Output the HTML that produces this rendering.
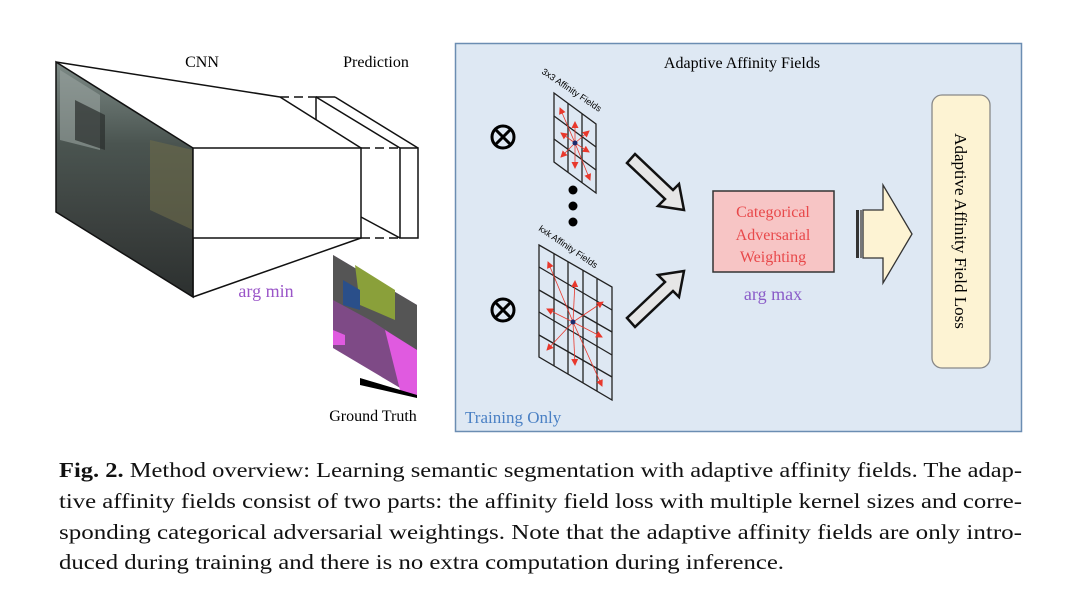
<!DOCTYPE html>
<html><head><meta charset="utf-8"><style>
html,body{margin:0;padding:0;background:#fff;}
svg{display:block;font-family:"Liberation Serif",serif;}
</style></head><body>
<svg width="1080" height="599" viewBox="0 0 1080 599" xmlns="http://www.w3.org/2000/svg">
<defs>
<linearGradient id="ph" x1="0" y1="0" x2="0" y2="1">
<stop offset="0" stop-color="#7d8a86"/><stop offset="0.35" stop-color="#4a5450"/><stop offset="0.7" stop-color="#3b403e"/><stop offset="1" stop-color="#2c302f"/></linearGradient>
<marker id="ra" markerWidth="7" markerHeight="7" refX="6" refY="3.5" orient="auto" markerUnits="userSpaceOnUse"><path d="M0,0 L7,3.5 L0,7z" fill="#e8382c"/></marker>
</defs>
<!-- photo -->
<polygon points="56,62 193,148 193,297 56,212" fill="url(#ph)"/>
<polygon points="60,70 100,95 100,150 60,140" fill="#9aa3a0" opacity="0.6"/>
<polygon points="150,140 193,150 193,230 150,210" fill="#6d6a4a" opacity="0.6"/>
<polygon points="75,100 105,115 105,150 75,140" fill="#2a2e2c" opacity="0.7"/>
<polygon points="56,62 193,148 193,297 56,212" fill="none" stroke="#111" stroke-width="1.5"/>
<!-- CNN block -->
<g stroke="#111" stroke-width="1.5" fill="none">
<line x1="56" y1="62" x2="280" y2="97"/>
<line x1="280" y1="97" x2="318" y2="97" stroke-dasharray="9,5"/>
<line x1="280" y1="97" x2="361" y2="148"/>
<rect x="193" y="148" width="168" height="90" fill="#fff"/>
<line x1="193" y1="297" x2="361" y2="238"/>
<line x1="193" y1="238" x2="193" y2="297"/>
<line x1="361" y1="148" x2="400" y2="148" stroke-dasharray="9,5"/>
<line x1="361" y1="238" x2="400" y2="238" stroke-dasharray="9,5"/>
<line x1="316" y1="97" x2="335" y2="97"/>
<line x1="316" y1="97" x2="316" y2="120"/>
<line x1="316" y1="97" x2="400" y2="148"/>
<line x1="335" y1="97" x2="418" y2="148"/>
<line x1="361" y1="217" x2="400" y2="238"/>
<rect x="400" y="148" width="18" height="90"/>
</g>
<text x="202" y="67" font-size="16" text-anchor="middle">CNN</text>
<text x="376" y="67" font-size="16" text-anchor="middle">Prediction</text>
<text x="266" y="297" font-size="18" fill="#9a55c8" text-anchor="middle">arg min</text>
<!-- ground truth -->
<polygon points="333,255 417,305 417,398 333,348" fill="#7e4a86"/>
<polygon points="333,255 417,305 417,350 370,320 333,300" fill="#555"/>
<polygon points="355,265 395,290 395,320 360,305" fill="#8aa03a"/>
<polygon points="343,280 360,290 360,310 343,305" fill="#2a4f8a"/>
<polygon points="385,330 417,350 417,398 400,390" fill="#e05ae0"/>
<polygon points="333,330 345,335 345,345 333,345" fill="#e05ae0"/>
<polygon points="360,378 417,395 417,398 360,385" fill="#000"/>
<text x="373" y="421" font-size="16" text-anchor="middle">Ground Truth</text>
<!-- right panel -->
<rect x="455.5" y="43.5" width="566" height="388" fill="#dee8f3" stroke="#6b8db2" stroke-width="1.5"/>
<text x="742" y="68" font-size="16" text-anchor="middle">Adaptive Affinity Fields</text>
<text x="465" y="423" font-size="17" fill="#4a80c4">Training Only</text>
<!-- otimes -->
<g stroke="#000" stroke-width="3" fill="none">
<circle cx="503" cy="137" r="11"/><line x1="495" y1="129" x2="511" y2="145"/><line x1="511" y1="129" x2="495" y2="145"/>
<circle cx="503" cy="310" r="11"/><line x1="495" y1="302" x2="511" y2="318"/><line x1="511" y1="302" x2="495" y2="318"/>
</g>
<!-- 3x3 grid -->
<text font-size="9" font-family="Liberation Sans,sans-serif" transform="translate(541,73) rotate(34)">3x3 Affinity Fields</text>
<g stroke="#222" stroke-width="1.3" fill="none">
<polygon points="554,93 596,124 596,193 554,162"/>
<line x1="568" y1="103" x2="568" y2="172"/><line x1="582" y1="114" x2="582" y2="183"/>
<line x1="554" y1="116" x2="596" y2="147"/><line x1="554" y1="139" x2="596" y2="170"/>
</g>
<g stroke="#e8382c" stroke-width="0.8" marker-end="url(#ra)">
<line x1="575" y1="143" x2="560" y2="108"/><line x1="575" y1="143" x2="575" y2="122"/><line x1="575" y1="143" x2="589" y2="131"/>
<line x1="575" y1="143" x2="561" y2="133"/><line x1="575" y1="143" x2="589" y2="152"/>
<line x1="575" y1="143" x2="561" y2="157"/><line x1="575" y1="143" x2="575" y2="168"/><line x1="575" y1="143" x2="590" y2="180"/>
</g>
<circle cx="575" cy="143" r="2.5" fill="#1a2a6a"/>
<circle cx="573" cy="190" r="4.5" fill="#000"/><circle cx="573" cy="206" r="4.5" fill="#000"/><circle cx="573" cy="222" r="4.5" fill="#000"/>
<!-- kxk grid -->
<text font-size="9" font-family="Liberation Sans,sans-serif" transform="translate(538,230) rotate(34)">kxk Affinity Fields</text>
<g stroke="#222" stroke-width="1.3" fill="none">
<polygon points="539,245 612,287 612,400 539,357"/>
<line x1="554" y1="254" x2="554" y2="366"/><line x1="568" y1="262" x2="568" y2="374"/><line x1="583" y1="270" x2="583" y2="383"/><line x1="597" y1="279" x2="597" y2="391"/>
<line x1="539" y1="267" x2="612" y2="310"/><line x1="539" y1="290" x2="612" y2="332"/><line x1="539" y1="312" x2="612" y2="355"/><line x1="539" y1="335" x2="612" y2="377"/>
</g>
<g stroke="#e8382c" stroke-width="0.8" marker-end="url(#ra)">
<line x1="573" y1="322" x2="548" y2="262"/><line x1="573" y1="322" x2="575" y2="281"/><line x1="573" y1="322" x2="603" y2="302"/>
<line x1="573" y1="322" x2="547" y2="309"/><line x1="573" y1="322" x2="602" y2="337"/>
<line x1="573" y1="322" x2="547" y2="350"/><line x1="573" y1="322" x2="575" y2="365"/><line x1="573" y1="322" x2="602" y2="386"/>
</g>
<circle cx="573" cy="322" r="2.5" fill="#1a2a6a"/>
<!-- hollow arrows -->
<g fill="#e6e6e6" stroke="#111" stroke-width="2.5" stroke-linejoin="miter">
<polygon points="627,163 635,154 673,190 679,184 684,210 658,206 665,199"/>
<polygon points="627,318 635,327 673,291 679,297 684,271 658,275 665,282"/>
</g>
<!-- center box -->
<rect x="713" y="191" width="121" height="81" fill="#f7c5c5" stroke="#333" stroke-width="1.5"/>
<g font-size="16" fill="#e8484a" text-anchor="middle">
<text x="773" y="217">Categorical</text><text x="773" y="240">Adversarial</text><text x="773" y="262">Weighting</text>
</g>
<text x="773" y="300" font-size="18" fill="#8a5cc8" text-anchor="middle">arg max</text>
<!-- big arrow -->
<polygon points="863,210 883,210 883,185 912,234 883,283 883,258 863,258" fill="#fdf3d3" stroke="#333" stroke-width="1.3"/>
<rect x="856" y="210" width="3" height="48" fill="#333"/><rect x="860" y="210" width="2" height="48" fill="#777"/>
<!-- loss box -->
<rect x="932" y="95" width="58" height="273" rx="10" fill="#fdf3d3" stroke="#888" stroke-width="1.3"/>
<text transform="translate(955,231) rotate(90)" font-size="17" text-anchor="middle">Adaptive Affinity Field Loss</text>
<!-- caption -->
<g font-size="21" fill="#111">
<text x="59" y="477" textLength="963" lengthAdjust="spacingAndGlyphs"><tspan font-weight="bold">Fig. 2.</tspan> Method overview: Learning semantic segmentation with adaptive affinity fields. The adap-</text>
<text x="59" y="508" textLength="963" lengthAdjust="spacingAndGlyphs">tive affinity fields consist of two parts: the affinity field loss with multiple kernel sizes and corre-</text>
<text x="59" y="539" textLength="963" lengthAdjust="spacingAndGlyphs">sponding categorical adversarial weightings. Note that the adaptive affinity fields are only intro-</text>
<text x="59" y="569" textLength="725" lengthAdjust="spacingAndGlyphs">duced during training and there is no extra computation during inference.</text>
</g>
</svg>
</body></html>
